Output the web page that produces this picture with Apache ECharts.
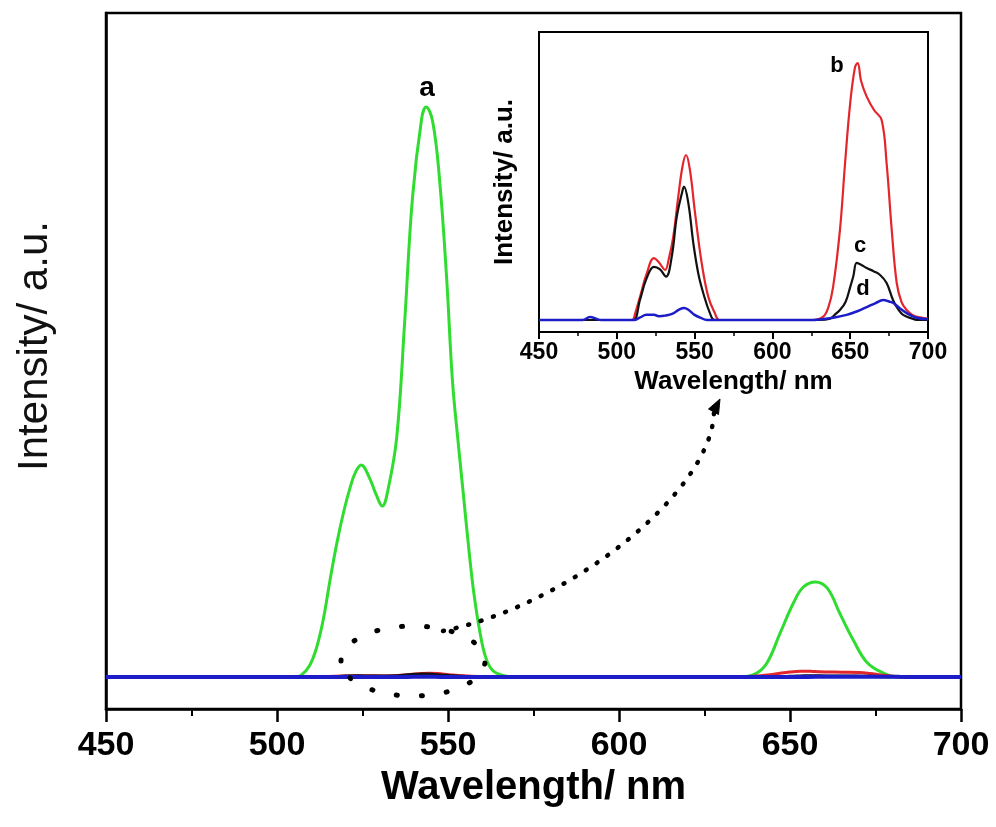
<!DOCTYPE html>
<html>
<head>
<meta charset="utf-8">
<script src="https://cdn.jsdelivr.net/npm/echarts@6/dist/echarts.min.js"></script>
<style>
html,body{margin:0;padding:0;background:#fff;}
#chart{width:996px;height:827px;}
</style>
</head>
<body>
<div id="chart"></div>
<script>
// ---- data (wavelength nm, intensity) ----
const xTicks = [450, 500, 550, 600, 650, 700];

// curve a (main plot, green), relative units (peak = 1)
const curveA = [[450,0],[500,0],[505,0],[507,0.003],[509.5,0.02],[511.5,0.05],[513.5,0.10],[515.5,0.17],[517.5,0.235],[519.5,0.29],[521.5,0.335],[523,0.36],[524.6,0.372],[527,0.35],[529,0.32],[530.8,0.30],[532.5,0.33],[535,0.42],[537.3,0.62],[539.6,0.84],[542.3,0.98],[543.6,1.0],[545.5,0.975],[547.5,0.875],[549.6,0.70],[551.3,0.52],[553,0.41],[554.5,0.32],[556,0.23],[557.5,0.15],[559.3,0.08],[561,0.035],[563,0.012],[566,0.003],[570,0],[635,0],[640,0.006],[643.3,0.025],[647.1,0.077],[651,0.13],[653.9,0.158],[657.4,0.167],[660.9,0.156],[664.7,0.11],[668.5,0.065],[672.6,0.025],[677.3,0.007],[682,0],[700,0]];

// curves b, c, d (inset units, peak of b = 1)
const curveB = [[450,0],[505,0],[509.8,0],[512,0.03],[514.9,0.09],[519.2,0.18],[523.9,0.241],[527,0.225],[531,0.195],[533.5,0.24],[536.3,0.324],[539.5,0.48],[542.3,0.6],[544.5,0.642],[547,0.584],[550.3,0.416],[554.6,0.22],[558.8,0.09],[563,0.027],[566,0],[625,0],[632.5,0.012],[636,0.05],[639,0.128],[643.4,0.35],[646.7,0.61],[650,0.844],[653.1,0.984],[654.8,1.0],[657,0.93],[660.6,0.869],[665.3,0.817],[670.2,0.778],[673.4,0.61],[676.7,0.35],[679.9,0.144],[683,0.07],[686.3,0.039],[690,0.02],[695,0.01],[700,0.005]];

const curveC = [[450,0],[508,0],[511,0],[514.9,0.078],[519.2,0.163],[523.9,0.207],[527.6,0.198],[531.6,0.169],[535.3,0.246],[538.5,0.40],[541.7,0.49],[543.2,0.519],[546,0.454],[549.2,0.298],[552.4,0.18],[555.6,0.104],[559.9,0.026],[563,0],[630,0],[637,0.005],[640,0.02],[643.4,0.039],[647,0.07],[650,0.128],[652,0.17],[654.2,0.222],[657,0.215],[660.6,0.202],[665,0.19],[669.2,0.175],[673.4,0.144],[677.5,0.078],[681,0.04],[684,0.02],[690,0.005],[694,0],[700,0]];

const curveD = [[450,0],[478,0],[482.8,0.012],[487,0.004],[490,0],[511,0],[515,0.01],[519,0.02],[523.9,0.02],[527,0.015],[531,0.017],[536,0.025],[540,0.04],[543.2,0.047],[546,0.04],[550,0.02],[554,0.008],[558,0],[625,0],[630,0.002],[640,0.01],[647.7,0.02],[655,0.035],[660.6,0.05],[666,0.065],[671.3,0.078],[675,0.072],[677.7,0.066],[682,0.045],[686.3,0.027],[692,0.01],[700,0.003]];

const FONT = '"Liberation Sans", Arial, Helvetica, sans-serif';
const GREEN = '#2fdc2f', RED = '#e3262b', BLACK = '#111111', BLUE = '#1c1cc8';

const chart = echarts.init(document.getElementById('chart'), null, {renderer: 'canvas'});

const xAxisBase = {
  type: 'value', min: xTicks[0], max: xTicks[xTicks.length - 1], interval: 50,
  splitLine: {show: false},
  axisLine: {show: true, onZero: false, lineStyle: {color: '#000'}},
  axisTick: {show: true, inside: false},
  minorTick: {show: true, splitNumber: 2},
  minorSplitLine: {show: false}
};

const option = {
  backgroundColor: '#fff',
  animation: false,
  grid: [
    {left: 106, right: 35, top: 13, bottom: 118, show: true, borderColor: '#000', borderWidth: 2.5, backgroundColor: 'transparent', containLabel: false},
    {left: 539, right: 68, top: 32, bottom: 495, show: true, borderColor: '#000', borderWidth: 2, backgroundColor: '#fff', containLabel: false}
  ],
  xAxis: [
    Object.assign({}, xAxisBase, {
      gridIndex: 0,
      axisLine: {show: true, onZero: false, lineStyle: {color: '#000', width: 2.5}},
      axisTick: {show: true, inside: false, length: 13, lineStyle: {color: '#000', width: 2.5}},
      minorTick: {show: true, splitNumber: 2, length: 7, lineStyle: {color: '#000', width: 2}},
      axisLabel: {color: '#000', fontSize: 34, fontWeight: 'bold', fontFamily: FONT, margin: 20},
      name: 'Wavelength/ nm', nameLocation: 'middle', nameGap: 54,
      nameTextStyle: {color: '#000', fontSize: 40, fontWeight: 'bold', fontFamily: FONT}
    }),
    Object.assign({}, xAxisBase, {
      gridIndex: 1,
      axisLine: {show: true, onZero: false, lineStyle: {color: '#000', width: 2}},
      axisTick: {show: true, inside: false, length: 7, lineStyle: {color: '#000', width: 2}},
      minorTick: {show: true, splitNumber: 2, length: 4, lineStyle: {color: '#000', width: 1.5}},
      axisLabel: {color: '#000', fontSize: 23, fontWeight: 'bold', fontFamily: FONT, margin: 9},
      name: 'Wavelength/ nm', nameLocation: 'middle', nameGap: 37,
      nameTextStyle: {color: '#000', fontSize: 26, fontWeight: 'bold', fontFamily: FONT}
    })
  ],
  yAxis: [
    {type: 'value', gridIndex: 0, min: -0.056, max: 1.165,
     axisLine: {show: true, onZero: false, lineStyle: {color: '#000', width: 2.5}},
     axisTick: {show: false}, axisLabel: {show: false}, splitLine: {show: false}},
    {type: 'value', gridIndex: 0, min: -5.33, max: 111, show: false,
     axisLine: {show: false}, axisTick: {show: false}, axisLabel: {show: false}, splitLine: {show: false}},
    {type: 'value', gridIndex: 1, min: -0.0467, max: 1.1206,
     axisLine: {show: true, onZero: false, lineStyle: {color: '#000', width: 2}},
     axisTick: {show: false}, axisLabel: {show: false}, splitLine: {show: false},
     name: 'Intensity/ a.u.', nameLocation: 'middle', nameGap: 21,
     nameTextStyle: {color: '#000', fontSize: 26, fontWeight: 'bold', fontFamily: FONT}}
  ],
  series: [
    {name: 'a', type: 'line', xAxisIndex: 0, yAxisIndex: 0, data: curveA, smooth: 0.4, symbol: 'none',
     lineStyle: {color: GREEN, width: 3}, z: 2},
    {name: 'b-main', type: 'line', xAxisIndex: 0, yAxisIndex: 1, data: curveB, smooth: 0.4, symbol: 'none',
     lineStyle: {color: RED, width: 3}, z: 3},
    {name: 'c-main', type: 'line', xAxisIndex: 0, yAxisIndex: 1, data: curveC, smooth: 0.4, symbol: 'none',
     lineStyle: {color: BLACK, width: 3}, z: 3},
    {name: 'd-main', type: 'line', xAxisIndex: 0, yAxisIndex: 1, data: curveD, smooth: 0.4, symbol: 'none',
     lineStyle: {color: BLUE, width: 4}, z: 4},
    {name: 'b', type: 'line', xAxisIndex: 1, yAxisIndex: 2, data: curveB, smooth: 0.4, symbol: 'none',
     lineStyle: {color: RED, width: 2.2}, z: 5},
    {name: 'c', type: 'line', xAxisIndex: 1, yAxisIndex: 2, data: curveC, smooth: 0.4, symbol: 'none',
     lineStyle: {color: BLACK, width: 2.2}, z: 6},
    {name: 'd', type: 'line', xAxisIndex: 1, yAxisIndex: 2, data: curveD, smooth: 0.4, symbol: 'none',
     lineStyle: {color: BLUE, width: 2.5}, z: 7}
  ],
  graphic: [
    {type: 'text', x: 35, y: 346, rotation: Math.PI / 2,
     style: {text: 'Intensity/ a.u.', fill: '#111', font: 'normal 42px ' + FONT, align: 'center', verticalAlign: 'middle'}, z: 10},
    {type: 'text', x: 427, y: 88, style: {text: 'a', fill: '#000', font: 'bold 28px ' + FONT, align: 'center', verticalAlign: 'middle'}, z: 10},
    {type: 'text', x: 837, y: 66, style: {text: 'b', fill: '#000', font: 'bold 22px ' + FONT, align: 'center', verticalAlign: 'middle'}, z: 10},
    {type: 'text', x: 860, y: 246, style: {text: 'c', fill: '#000', font: 'bold 22px ' + FONT, align: 'center', verticalAlign: 'middle'}, z: 10},
    {type: 'text', x: 863, y: 289, style: {text: 'd', fill: '#000', font: 'bold 22px ' + FONT, align: 'center', verticalAlign: 'middle'}, z: 10},
    {type: 'ellipse', shape: {cx: 413, cy: 661, rx: 72, ry: 35},
     style: {fill: 'none', stroke: '#000', lineWidth: 5, lineDash: [1, 24], lineCap: 'round'}, z: 10},
    {type: 'bezierCurve', shape: {x1: 443, y1: 631, cpx1: 570, cpy1: 605, cpx2: 712, cpy2: 492, x2: 714, y2: 412},
     style: {fill: 'none', stroke: '#000', lineWidth: 4.5, lineDash: [1, 12], lineCap: 'round'}, z: 10},
    {type: 'polygon', shape: {points: [[720, 399], [708.5, 409], [718.5, 414.5]]},
     style: {fill: '#000', stroke: '#000', lineWidth: 1}, z: 10}
  ]
};
chart.setOption(option);
</script>
</body>
</html>
